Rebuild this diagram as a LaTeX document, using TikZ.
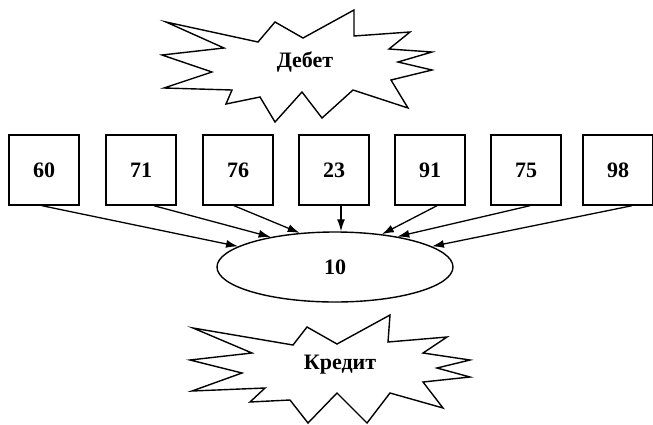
\documentclass[tikz,border=0pt]{standalone}
\usepackage{fontspec}
\setmainfont{Liberation Serif}
\usetikzlibrary{shapes.geometric,arrows.meta,calc}
\begin{document}
\begin{tikzpicture}[x=1pt,y=-1pt,
  line width=1.4pt,
  txt/.style={font=\fontsize{22}{26}\selectfont\bfseries},
  box/.style={draw,txt,minimum width=70pt,minimum height=70pt,inner sep=0pt},
  oval/.style={draw,txt,ellipse,minimum width=236pt,minimum height=70pt,inner sep=0pt},
  conn/.style={-{Latex[length=12pt,width=8pt]},line width=1.3pt},
  burst/.style={draw,line width=1.4pt,line join=miter,miter limit=20}]
\fill[white] (0,0) rectangle (653,424);
\useasboundingbox (0,0) rectangle (653,424);

% Debit burst
\draw[burst] (166,22) -- (258,42) -- (275,22) -- (303,38) -- (354,10) -- (354,36)
  -- (410,32) -- (389,49) -- (432,52) -- (398,62) -- (432,70) -- (391,80)
  -- (408,108) -- (353,90) -- (322,118) -- (302,92) -- (275,122) -- (260,97)
  -- (226,104) -- (232,90) -- (164,88) -- (212,72) -- (162,55) -- (224,48) -- cycle;
\node[txt] (deb) at (305,62) {Дебет};

% Credit burst
\draw[burst] (193,328) -- (293,345) -- (307,327) -- (337,344) -- (390,315) -- (388,342)
  -- (447,337) -- (423,353) -- (470,360) -- (437,368) -- (470,377) -- (423,382)
  -- (443,408) -- (390,393) -- (367,423) -- (337,393) -- (308,423) -- (290,400)
  -- (250,402) -- (265,388) -- (192,391) -- (242,373) -- (190,360) -- (252,353) -- cycle;
\node[txt] (kred) at (340,365) {Кредит};

% boxes
\node[box] (b1) at (44,170) {60};
\node[box] (b2) at (141,170) {71};
\node[box] (b3) at (238,170) {76};
\node[box] (b4) at (334,170) {23};
\node[box] (b5) at (430,170) {91};
\node[box] (b6) at (526,170) {75};
\node[box] (b7) at (618,170) {98};

% ellipse
\node[oval] (e) at (335,267) {10};

% connectors
\coordinate (s4) at ($(b4.south)+(7,0)$);
\draw[conn] ($(b1.south)+(-2,0)$) -- (e.168);
\draw[conn] ($(b2.south)+(13,0)$) -- (e.155);
\draw[conn] ($(b3.south)+(-4,0)$) -- (e.136);
\draw[conn] (s4) -- (s4 |- e.north);
\draw[conn] ($(b5.south)+(7,0)$) -- (e.35);
\draw[conn] ($(b6.south)+(4,0)$) -- (e.26);
\draw[conn] ($(b7.south)+(14,0)$) -- (e.12);
\end{tikzpicture}
\end{document}
